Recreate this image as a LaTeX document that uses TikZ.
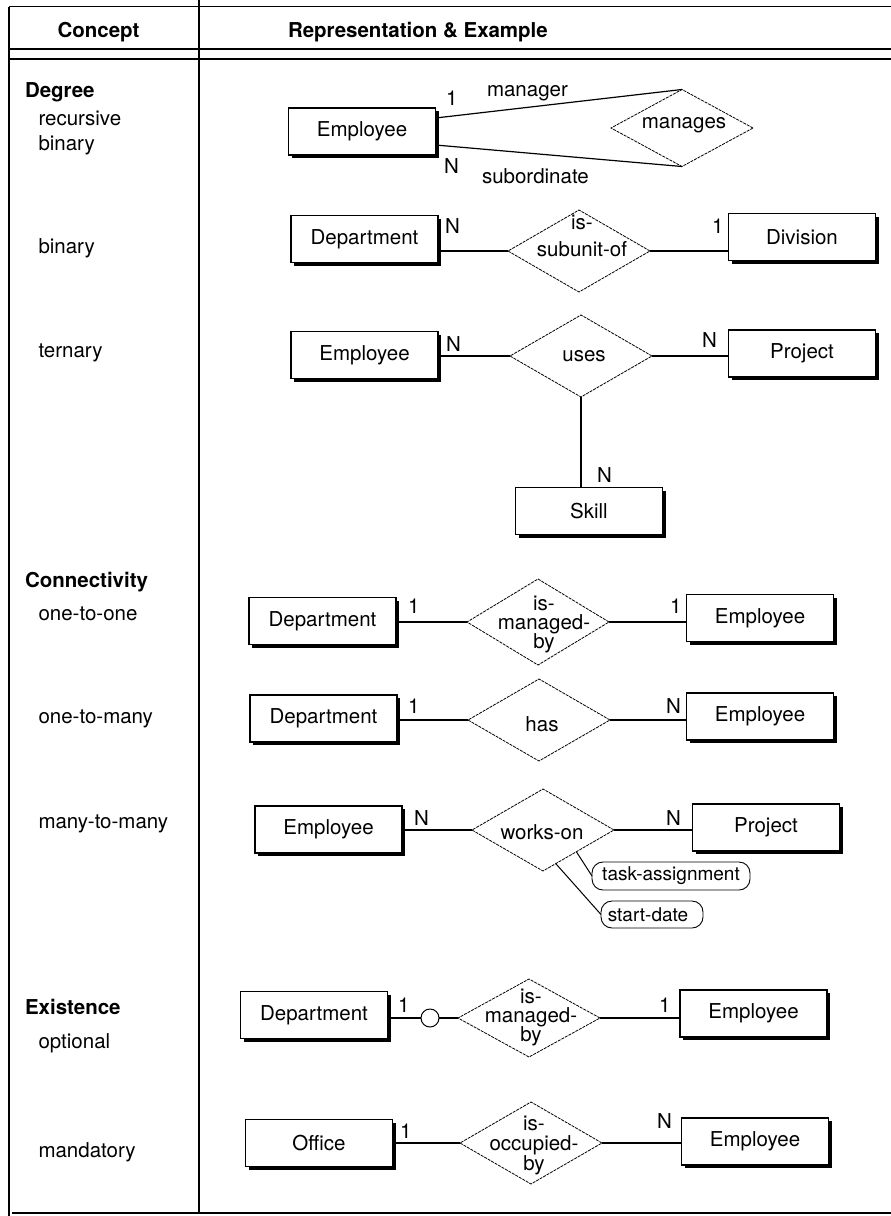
\documentclass[tikz,border=0pt]{standalone}
\usepackage{fontspec}
\setmainfont{TeX Gyre Heros}
\usetikzlibrary{shapes.geometric,shadows,calc}
\newcommand\tightlns{\lineskiplimit=-20pt\relax}
\begin{document}
\begin{tikzpicture}[x=1pt,y=-1pt,
  txt/.style={font=\fontsize{20.5}{24}\selectfont, inner sep=0pt, outer sep=0pt},
  ent/.style={txt, draw, line width=1.2pt, fill=white, minimum width=147pt, minimum height=47pt,
    drop shadow={shadow xshift=3pt, shadow yshift=-3pt, fill=black, opacity=1}},
  reln/.style={diamond, draw, line width=0.8pt, dash pattern=on 3pt off 1pt,
    minimum width=142pt, minimum height=82pt, inner sep=0pt, outer sep=0pt},
  reltxt/.style={txt, align=center},
  attrb/.style={txt, font=\fontsize{19}{22}\selectfont, draw, line width=0.9pt,
    rounded corners=11pt, minimum height=27pt, inner xsep=6pt},
  cnx/.style={line width=1.2pt},
  acnx/.style={line width=1pt},
  cardlbl/.style={txt, anchor=base west},
  tblrule/.style={line width=1.2pt},
  ctext/.style={txt, anchor=base west},
  ctitle/.style={txt, font=\fontsize{20.5}{24}\selectfont\bfseries, anchor=base west},
  hdtext/.style={txt, font=\fontsize{20.5}{24}\selectfont\bfseries, anchor=base}
]
\useasboundingbox (0,0) rectangle (891,1216);

% table rules
\draw[tblrule] (9,6.5) -- (891,6.5);
\draw[tblrule] (9,6.5) -- (9,1216);
\draw[tblrule] (199,0) -- (199,1212);
\draw[tblrule] (9,49) -- (891,49);
\draw[tblrule] (9,59) -- (891,59);
\draw[line width=2pt] (12,1212.5) -- (891,1212.5);

% header
\node[hdtext] (hconcept) at (98.5,37.5) {Concept};
\node[hdtext, anchor=base west] (hrep) at (288,37.5) {Representation \& Example};

% concept column
\node[ctitle] (tdeg) at (25,97) {Degree};
\node[ctext] (trec1) at (38.5,125) {recursive};
\node[ctext] (trec2) at (38.5,150) {binary};
\node[ctext] (tbin) at (38.5,253) {binary};
\node[ctext] (tter) at (38.5,357) {ternary};
\node[ctitle] (tcon) at (25,587) {Connectivity};
\node[ctext] (t11) at (38.5,620) {one-to-one};
\node[ctext] (t1n) at (38.5,723) {one-to-many};
\node[ctext] (tnn) at (38.5,828) {many-to-many};
\node[ctitle] (texi) at (25,1014) {Existence};
\node[ctext] (topt) at (38.5,1048) {optional};
\node[ctext] (tman) at (38.5,1157) {mandatory};

% row 1: recursive binary
\node[ent] (emp1) at (362,131.5) {Employee};
\node[reln, minimum height=77pt] (mng) at (682,128) {};
\node[txt] (mngt) at (684,125) {manages};
\draw[cnx] ([yshift=-10pt]emp1.north east) -- (mng.north);
\draw[cnx] ([yshift=10pt]emp1.south east) -- (mng.south);
\node[cardlbl] (c1a) at (446,105) {1};
\node[cardlbl] (c1b) at (487,96) {manager};
\node[cardlbl] (c1c) at (444,173) {N};
\node[cardlbl] (c1d) at (482,183) {subordinate};

% row 2: binary
\node[ent] (dept2) at (364.5,239) {Department};
\node[reln] (isub) at (579,251) {};
\node[reltxt, font={\fontsize{20.5}{27}\selectfont}] (isubt) at (582,236) {is-\\subunit-of};
\node[ent] (div2) at (802,237) {Division};
\draw[cnx] (dept2.east |- isub.west) -- (isub.west);
\draw[cnx] (isub.east) -- (div2.west |- isub.east);
\node[cardlbl] (c2a) at (445,233) {N};
\node[cardlbl] (c2b) at (712,233) {1};

% row 3: ternary
\node[ent] (emp3) at (364.5,355) {Employee};
\node[reln] (uses) at (581,356) {};
\node[txt] (usest) at (584,356) {uses};
\node[ent] (proj3) at (802,353.5) {Project};
\node[ent] (skill3) at (589,511) {Skill};
\draw[cnx] (emp3.east |- uses.west) -- (uses.west);
\draw[cnx] (uses.east) -- (proj3.west |- uses.east);
\draw[cnx] (uses.south) -- (uses.south |- skill3.north);
\node[cardlbl] (c3a) at (446,351) {N};
\node[cardlbl] (c3b) at (702,347) {N};
\node[cardlbl] (c3c) at (597,482) {N};

% row 4: one-to-one
\node[ent] (dept4) at (322.5,621) {Department};
\node[reln, minimum height=86pt] (imb4) at (538,622) {};
\node[reltxt, font={\fontsize{20.5}{19}\selectfont\tightlns}] (imb4t) at (544,624) {is-\\managed-\\by};
\node[ent] (emp4) at (760,618) {Employee};
\draw[cnx] (dept4.east |- imb4.west) -- (imb4.west);
\draw[cnx] (imb4.east) -- (emp4.west |- imb4.east);
\node[cardlbl] (c4a) at (408,613) {1};
\node[cardlbl] (c4b) at (670,613) {1};

% row 5: one-to-many
\node[ent] (dept5) at (323.5,718.5) {Department};
\node[reln] (has) at (539,720) {};
\node[txt] (hast) at (542,724) {has};
\node[ent] (emp5) at (760,716.5) {Employee};
\draw[cnx] (dept5.east |- has.west) -- (has.west);
\draw[cnx] (has.east) -- (emp5.west |- has.east);
\node[cardlbl] (c5a) at (408,713) {1};
\node[cardlbl] (c5b) at (666,713) {N};

% row 6: many-to-many
\node[ent] (emp6) at (328.5,829.5) {Employee};
\node[reln] (works) at (543,830) {};
\node[txt] (workst) at (542,832) {works-on};
\node[ent] (proj6) at (766,827.5) {Project};
\draw[cnx] (emp6.east |- works.west) -- (works.west);
\draw[cnx] (works.east) -- (proj6.west |- works.east);
\node[cardlbl] (c6a) at (414,825) {N};
\node[cardlbl] (c6b) at (666,825) {N};
\node[attrb, minimum width=158pt, minimum height=28pt] (task) at (671,876) {task-assignment};
\node[attrb, minimum width=102pt] (sdate) at (652,914.5) {start-date\hspace*{8pt}};
\draw[acnx] ($(works.south)!0.47!(works.east)$) -- (task.west);
\draw[acnx] ($(works.south)!0.18!(works.east)$) -- (sdate.west);

% row 7: optional
\node[ent] (dept7) at (314,1015) {Department};
\node[circle, draw, line width=1pt, minimum size=18pt, inner sep=0pt, outer sep=0pt] (opt7) at (430,1018) {};
\node[reln, minimum height=78pt] (imb7) at (529,1018) {};
\node[reltxt, font={\fontsize{20.5}{19}\selectfont\tightlns}] (imb7t) at (531,1017) {is-\\managed-\\by};
\node[ent] (emp7) at (753.5,1013.5) {Employee};
\draw[cnx] (dept7.east |- opt7.west) -- (opt7.west);
\draw[cnx] (opt7.east) -- (imb7.west);
\draw[cnx] (imb7.east) -- (emp7.west |- imb7.east);
\node[cardlbl] (c7a) at (398,1012) {1};
\node[cardlbl] (c7b) at (659,1012) {1};

% row 8: mandatory
\node[ent] (off8) at (319,1143) {Office};
\node[reln] (iob8) at (531,1143) {};
\node[reltxt, font={\fontsize{20.5}{20}\selectfont\tightlns}] (iob8t) at (534,1145) {is-\\occupied-\\by};
\node[ent] (emp8) at (755,1141.5) {Employee};
\draw[cnx] (off8.east |- iob8.west) -- (iob8.west);
\draw[cnx] (iob8.east) -- (emp8.west |- iob8.east);
\node[cardlbl] (c8a) at (400,1138) {1};
\node[cardlbl] (c8b) at (657,1128) {N};
\end{tikzpicture}
\end{document}
